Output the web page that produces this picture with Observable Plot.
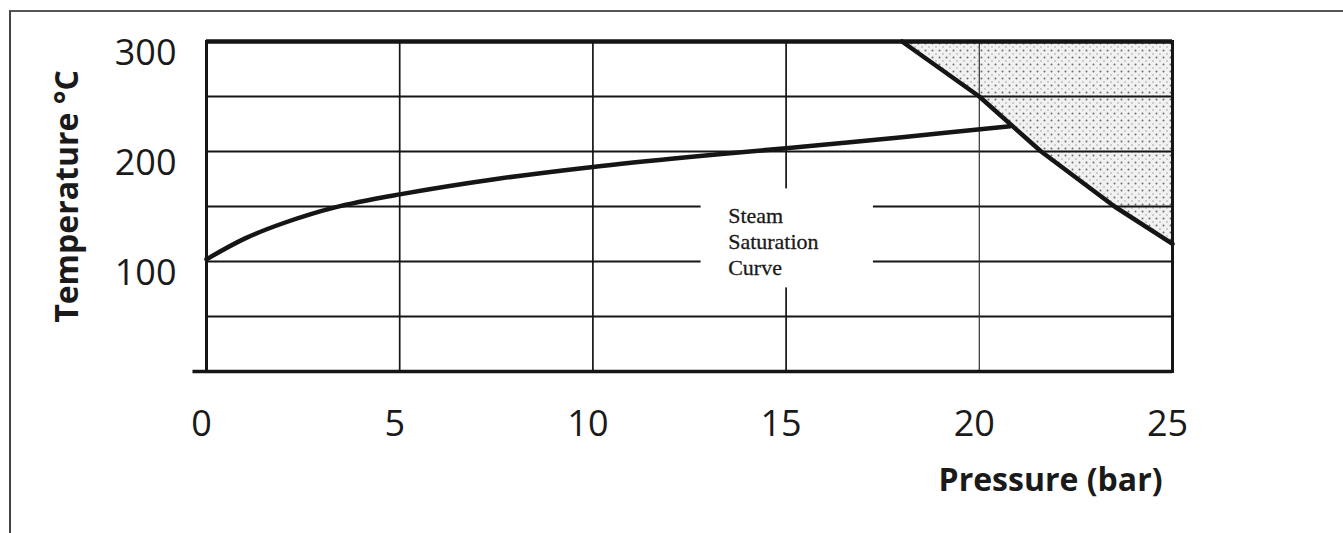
<!DOCTYPE html>
<html>
<head>
<meta charset="utf-8">
<script src="https://cdn.jsdelivr.net/npm/d3@7"></script>
<script src="https://cdn.jsdelivr.net/npm/@observablehq/plot@0.6"></script>
<style>
  html, body { margin: 0; padding: 0; background: #fff; }
  #wrap { position: relative; width: 1343px; height: 533px; overflow: hidden; }
  #border { position: absolute; left: 9px; top: 10px; right: -10px; bottom: -10px;
            border-top: 2px solid #555; border-left: 2px solid #444; pointer-events: none; }
</style>
</head>
<body>
<div id="wrap"><div id="border"></div></div>
<script>
// ---- data ----
const xTicks = [0, 5, 10, 15, 20, 25];
const yTicks = [100, 200, 300];
const yGrid = [50, 100, 150, 200, 250];
const xGrid = [5, 10, 15];
const xGridThin = [20];

// steam saturation curve (pressure bar, temperature °C)
const satP = [0, 1, 2, 3.3, 5, 7.5, 10, 12.5, 15, 18, 20.8];
const satT = [102, 121, 135, 149, 161, 175, 186, 195, 203, 213, 223];

// boundary of shaded region
const limP = [18, 20, 21.6, 23.5, 25];
const limT = [300, 250, 200, 150, 116];

const annotation = "Steam\nSaturation\nCurve";
const annoP = 13.5, annoT = 119;
const boxP = [12.8, 17.26], boxT = [76, 166];

const xTitle = "Pressure (bar)";
const yTitle = "Temperature °C";

const sat = satP.map((p, i) => ({p, t: satT[i]}));
const lim = limP.map((p, i) => ({p, t: limT[i]}));

const ink = "#151515";

const chart = Plot.plot({
  width: 1343,
  height: 533,
  marginLeft: 206,
  marginRight: 171,
  marginTop: 41,
  marginBottom: 162,
  style: {fontFamily: "'Open Sans', sans-serif", background: "transparent", color: ink},
  x: {domain: [0, 25]},
  y: {domain: [0, 300]},
  marks: [
    Plot.areaY(lim, {x: "p", y1: "t", y2: 300, fill: "url(#dots)"}),
    Plot.ruleY(yGrid, {stroke: ink, strokeWidth: 2}),
    Plot.ruleX(xGrid, {stroke: ink, strokeWidth: 1.7}),
    Plot.ruleX(xGridThin, {stroke: "#333", strokeWidth: 1.2}),
    Plot.rect([0], {x1: boxP[0], x2: boxP[1], y1: boxT[0], y2: boxT[1], fill: "white"}),
    Plot.text([annotation], {x: annoP, y: annoT, text: d => d, textAnchor: "start",
      lineHeight: 1.17, fontSize: 22, fontFamily: "'Liberation Serif', serif", fill: "#1a1a1a",
      stroke: "#1a1a1a", strokeWidth: 0.3}),
    Plot.line(sat, {x: "p", y: "t", curve: "catmull-rom", stroke: ink, strokeWidth: 4.5}),
    Plot.line(lim, {x: "p", y: "t", stroke: ink, strokeWidth: 4.5}),
    Plot.frame({stroke: ink, strokeWidth: 3}),
    Plot.ruleY([300], {stroke: ink, strokeWidth: 4.5}),
    Plot.ruleY([0], {x1: -0.35, x2: 25, stroke: ink, strokeWidth: 3.5}),
    Plot.axisX({ticks: xTicks, tickSize: 0, tickPadding: 39, fontSize: 36, dx: -5, label: null,
      fill: "#1a1a1a"}),
    Plot.axisY({ticks: yTicks, tickSize: 0, tickPadding: 30, fontSize: 36, dy: 12, label: null,
      fill: "#1a1a1a"}),
    Plot.text([xTitle], {frameAnchor: "bottom-right", text: d => d, textAnchor: "end",
      dx: -10, dy: 119, fontSize: 32, fontWeight: "bold", fill: "#1a1a1a"}),
    Plot.text([yTitle], {frameAnchor: "left", text: d => d, rotate: -90, textAnchor: "middle",
      dx: -139, dy: -10, fontSize: 32, fontWeight: "bold", fill: "#1a1a1a"})
  ]
});

const ns = "http://www.w3.org/2000/svg";
const defs = document.createElementNS(ns, "defs");
defs.innerHTML = `<pattern id="dots" width="7" height="7" patternUnits="userSpaceOnUse">
  <rect width="7" height="7" fill="#f1f1f1"/>
  <circle cx="1.5" cy="1.5" r="1" fill="#6e6e6e"/>
  <circle cx="5" cy="5" r="0.8" fill="#a0a0a0"/>
</pattern>`;
chart.insertBefore(defs, chart.firstChild);
chart.style.position = "absolute";
chart.style.left = "0";
chart.style.top = "0";
document.getElementById("wrap").appendChild(chart);
</script>
</body>
</html>
